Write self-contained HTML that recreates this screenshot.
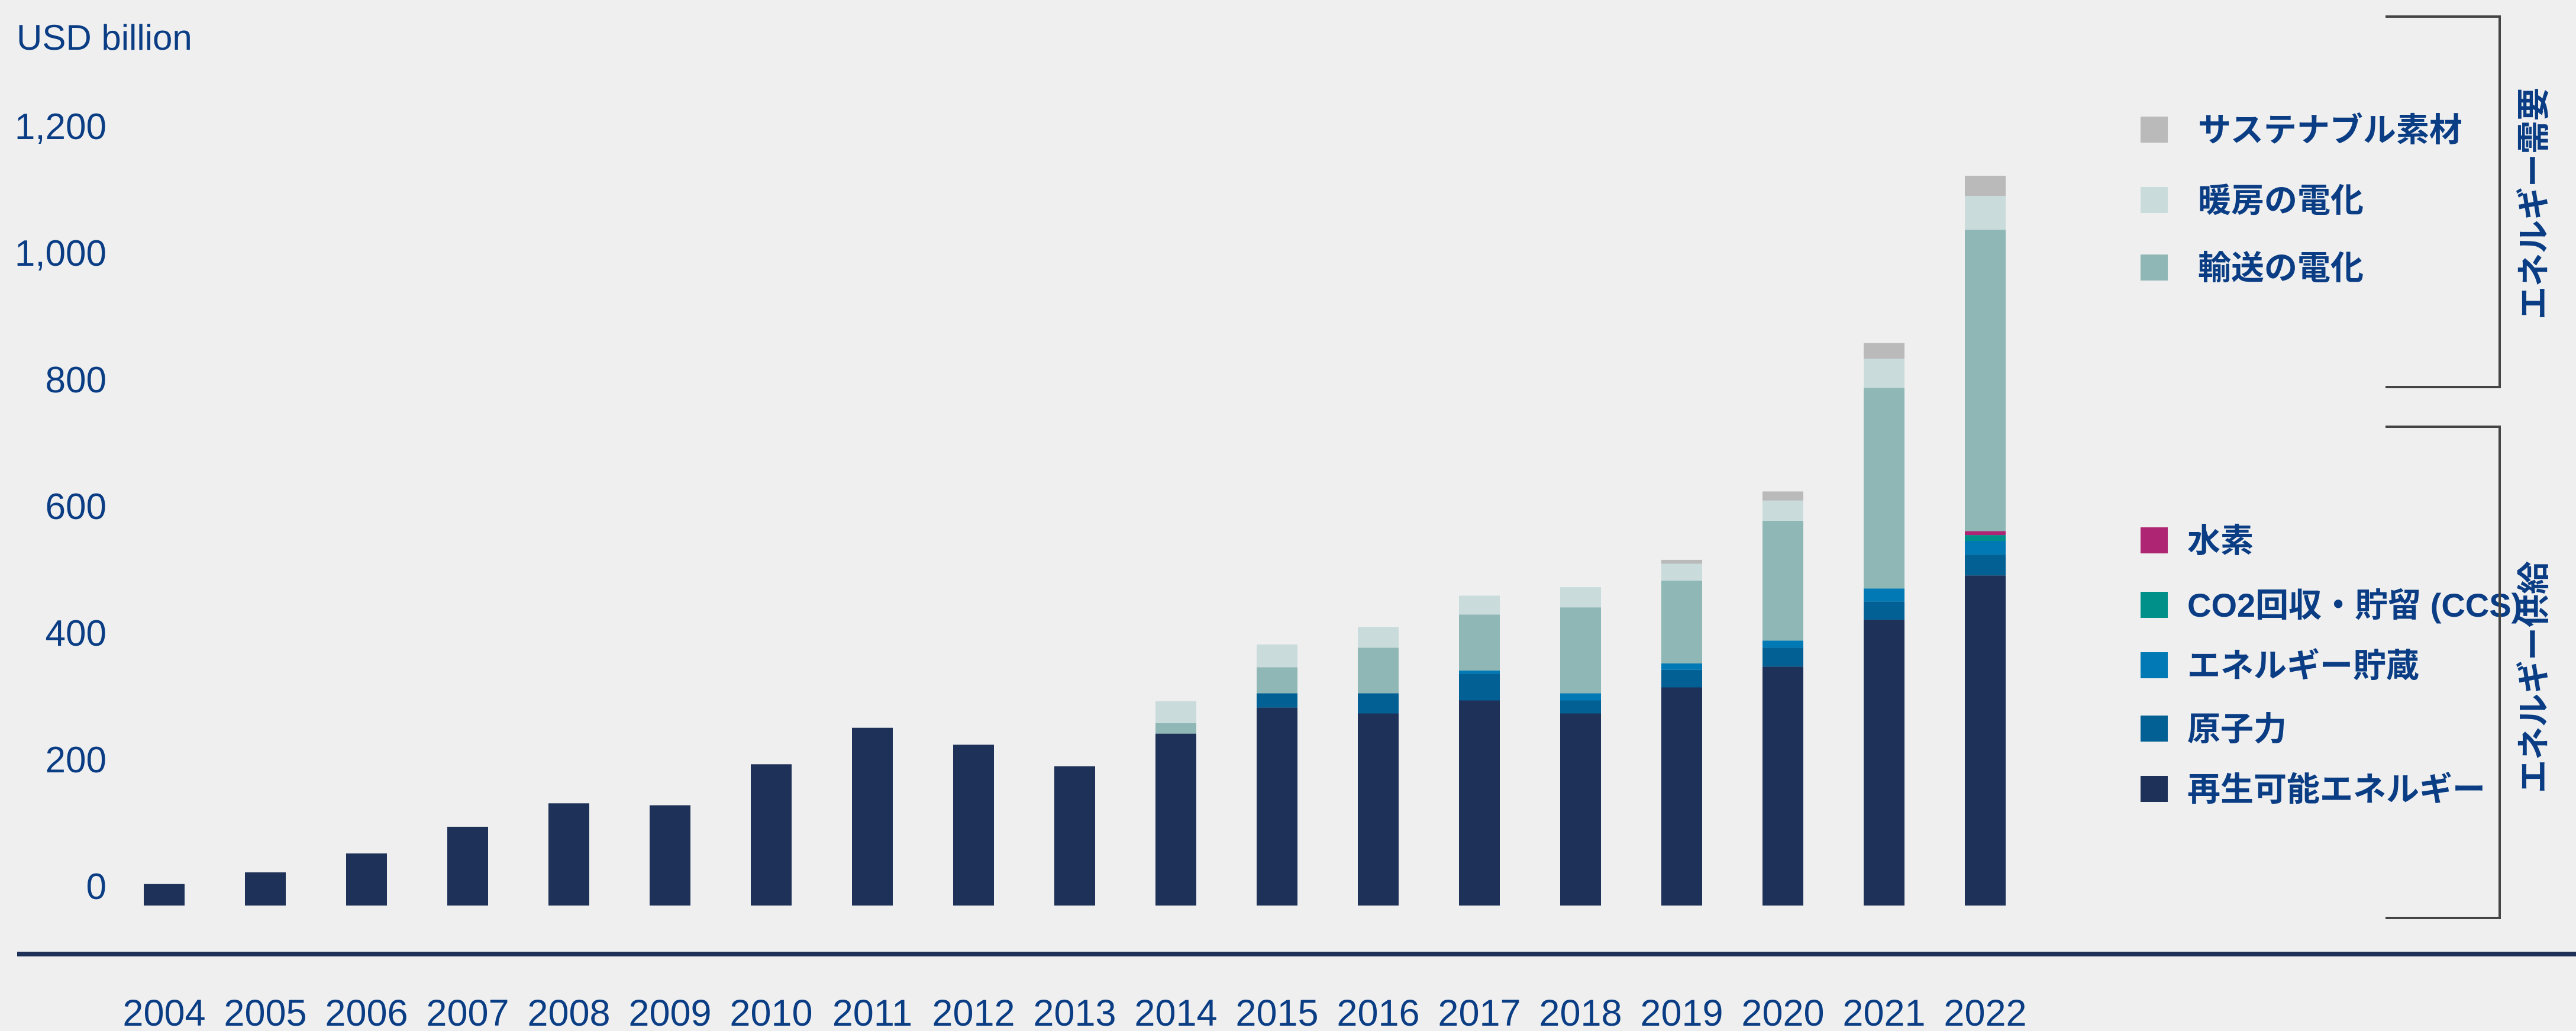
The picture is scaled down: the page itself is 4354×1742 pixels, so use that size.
<!DOCTYPE html>
<html><head><meta charset="utf-8"><style>
html,body{margin:0;padding:0;background:#efefef;}
svg{display:block;}
text{font-family:"Liberation Sans","Noto Sans CJK JP",sans-serif;fill:#0a3d84;}
</style></head><body>
<svg id="chart" width="4354" height="1742" viewBox="0 0 4354 1742" xmlns="http://www.w3.org/2000/svg">
<rect width="4354" height="1742" fill="#efefef"/>
<text x="28" y="84" font-size="60">USD billion</text>
<g id="yticks"></g>
<g id="bars"></g>
<rect x="29" y="1608" width="4325" height="8" fill="#1e3158"/>
<g id="xlabels"></g>
<g id="legend"></g>
<polyline points="4032,28 4225,28 4225,654 4032,654" fill="none" stroke="#444" stroke-width="4"/>
<polyline points="4032,721 4225,721 4225,1551 4032,1551" fill="none" stroke="#444" stroke-width="4"/>
<text transform="translate(4302,344) rotate(-90)" text-anchor="middle" font-size="56" font-weight="bold">エネルギー需要</text>
<text transform="translate(4302,1144) rotate(-90)" text-anchor="middle" font-size="56" font-weight="bold">エネルギー供給</text>
</svg>
<script>
const years = ["2004","2005","2006","2007","2008","2009","2010","2011","2012","2013","2014","2015","2016","2017","2018","2019","2020","2021","2022"];
const renewables = [33,51,80,121,157,154,217,273,247,214,264,304,295,315,295,335,367,439,507];
const nuclear = [0,0,0,0,0,0,0,0,0,0,0,22,31,41,20,27,29,28,32];
const storage = [0,0,0,0,0,0,0,0,0,0,0,0,0,5,11,10,11,20,21];
const ccs = [0,0,0,0,0,0,0,0,0,0,0,0,0,0,0,0,0,0,9];
const hydrogen = [0,0,0,0,0,0,0,0,0,0,0,0,0,0,0,0,0,0,6];
const transport = [0,0,0,0,0,0,0,0,0,0,16,40,70,86,132,127,184,308,463];
const heating = [0,0,0,0,0,0,0,0,0,0,34,35,32,29,31,26,31,45,52];
const materials = [0,0,0,0,0,0,0,0,0,0,0,0,0,0,0,6,14,24,31];
const yTickValues = [0,200,400,600,800,1000,1200];
const yTickLabels = ["0","200","400","600","800","1,000","1,200"];

const NS="http://www.w3.org/2000/svg";
const baseY=1530, pxPer=1.1, x0=277.5, step=171, bw=69;
function yScale(v){return baseY - v*pxPer;}
function xScale(i){return x0 + i*step;}
function labelY(v){return 1497 - v*1.07;}

const series=[
 {name:"renewables",data:renewables,color:"#1e3158",label:"再生可能エネルギー",ly:1333,tx:3697},
 {name:"nuclear",data:nuclear,color:"#036094",label:"原子力",ly:1231,tx:3697},
 {name:"storage",data:storage,color:"#0079b4",label:"エネルギー貯蔵",ly:1124,tx:3697},
 {name:"ccs",data:ccs,color:"#00908a",label:"CO2回収・貯留 (CCS)",ly:1022,tx:3697},
 {name:"hydrogen",data:hydrogen,color:"#ae2573",label:"水素",ly:913,tx:3697},
 {name:"transport",data:transport,color:"#8fb7b6",label:"輸送の電化",ly:452,tx:3715},
 {name:"heating",data:heating,color:"#c9dcdb",label:"暖房の電化",ly:338,tx:3715},
 {name:"materials",data:materials,color:"#bababa",label:"サステナブル素材",ly:219,tx:3715}
];

const yt=document.getElementById('yticks');
yTickValues.forEach((v,i)=>{
 const t=document.createElementNS(NS,'text');
 
 
 t.setAttribute('x',180);t.setAttribute('y',labelY(v)+22);
 t.setAttribute('text-anchor','end');t.setAttribute('font-size','62');
 t.textContent=yTickLabels[i];yt.appendChild(t);
});

const bars=document.getElementById('bars');
years.forEach((yr,i)=>{
 let cum=0;
 series.forEach(s=>{
  const v=s.data[i]; if(!v) return;
  const r=document.createElementNS(NS,'rect');
  
  
  r.setAttribute('x',xScale(i)-bw/2);
  r.setAttribute('y',yScale(cum+v));
  r.setAttribute('width',bw);
  r.setAttribute('height',yScale(cum)-yScale(cum+v));
  r.setAttribute('fill',s.color);
  bars.appendChild(r);
  cum+=v;
 });
});

const xl=document.getElementById('xlabels');
years.forEach((yr,i)=>{
 const t=document.createElementNS(NS,'text');
 
 
 t.setAttribute('x',xScale(i));t.setAttribute('y',1733);
 t.setAttribute('text-anchor','middle');t.setAttribute('font-size','63');
 t.textContent=yr;xl.appendChild(t);
});

const lg=document.getElementById('legend');
series.forEach(s=>{
 const g=document.createElementNS(NS,'g');
 
 
 const r=document.createElementNS(NS,'rect');
 
 
 r.setAttribute('x',3618);r.setAttribute('y',s.ly-22);
 r.setAttribute('width',46);r.setAttribute('height',44);
 r.setAttribute('fill',s.color);g.appendChild(r);
 const t=document.createElementNS(NS,'text');
 
 
 t.setAttribute('x',s.tx);t.setAttribute('y',s.ly+20);
 t.setAttribute('font-size','56');t.setAttribute('font-weight','bold');
 t.textContent=s.label;g.appendChild(t);
 lg.appendChild(g);
});
</script>
</body></html>
